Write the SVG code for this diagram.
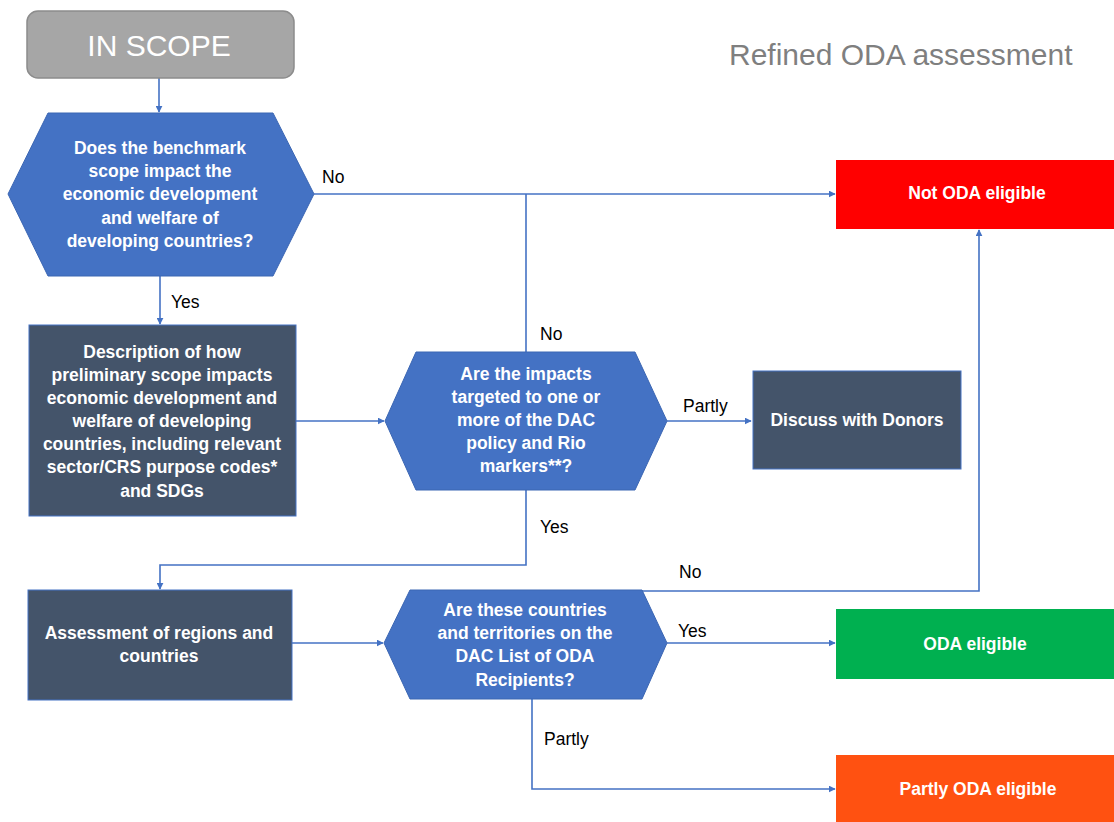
<svg xmlns="http://www.w3.org/2000/svg" width="1114" height="822" viewBox="0 0 1114 822">
<defs>
<style>
.bt{font-family:"Liberation Sans",Arial,sans-serif;font-weight:bold;font-size:17.5px;fill:#ffffff;text-anchor:middle}
.lb{font-family:"Liberation Sans",Arial,sans-serif;font-size:17.5px;fill:#000000}
.hex{fill:#4472c4;stroke:#3b66b3;stroke-width:1}
.dark{fill:#44546a;stroke:#4472c4;stroke-width:1}
.cn{fill:none;stroke:#4472c4;stroke-width:1.6}
</style>
<marker id="ah" viewBox="0 0 10 10" refX="9" refY="5" markerWidth="7" markerHeight="7" markerUnits="userSpaceOnUse" orient="auto">
<path d="M0,0 L10,5 L0,10 z" fill="#4472c4"/>
</marker>
</defs>
<rect width="1114" height="822" fill="#ffffff"/>
<text x="729" y="65" font-family="Liberation Sans,Arial,sans-serif" font-size="30" fill="#7f7f7f">Refined ODA assessment</text>

<g id="connectors">
<path class="cn" d="M159,78 V112" marker-end="url(#ah)"/>
<path class="cn" d="M314,194 H835" marker-end="url(#ah)"/>
<path class="cn" d="M526,352 V194"/>
<path class="cn" d="M160,276 V324" marker-end="url(#ah)"/>
<path class="cn" d="M296,421 H384" marker-end="url(#ah)"/>
<path class="cn" d="M667,421 H751" marker-end="url(#ah)"/>
<path class="cn" d="M526,490 V565 H160 V589" marker-end="url(#ah)"/>
<path class="cn" d="M292,643 H383" marker-end="url(#ah)"/>
<path class="cn" d="M642,591 H979 V230" marker-end="url(#ah)"/>
<path class="cn" d="M667,643 H835" marker-end="url(#ah)"/>
<path class="cn" d="M532,699 V789 H835" marker-end="url(#ah)"/>
<text class="lb" x="322" y="183">No</text>
<text class="lb" x="171" y="308">Yes</text>
<text class="lb" x="540" y="340">No</text>
<text class="lb" x="683" y="412">Partly</text>
<text class="lb" x="540" y="533">Yes</text>
<text class="lb" x="679" y="578">No</text>
<text class="lb" x="678" y="637">Yes</text>
<text class="lb" x="544" y="745">Partly</text>
</g>

<g id="in-scope">
<rect x="27" y="11" width="267" height="67" rx="11" fill="#a6a6a6" stroke="#8c8c8c" stroke-width="1.5"/>
<text x="159" y="56" font-family="Liberation Sans,Arial,sans-serif" font-size="30" fill="#ffffff" text-anchor="middle">IN SCOPE</text>
</g>

<g id="q-impact">
<polygon class="hex" points="8,194 48,113 273,113 314,194 273,276 48,276"/>
<text class="bt" x="160" y="154">Does the benchmark</text>
<text class="bt" x="160" y="177">scope impact the</text>
<text class="bt" x="160" y="200">economic development</text>
<text class="bt" x="160" y="224">and welfare of</text>
<text class="bt" x="160" y="247">developing countries?</text>
</g>

<g id="description">
<rect class="dark" x="29" y="325" width="267" height="191"/>
<text class="bt" x="162" y="358">Description of how</text>
<text class="bt" x="162" y="381">preliminary scope impacts</text>
<text class="bt" x="162" y="404">economic development and</text>
<text class="bt" x="162" y="427">welfare of developing</text>
<text class="bt" x="162" y="450">countries, including relevant</text>
<text class="bt" x="162" y="473">sector/CRS purpose codes*</text>
<text class="bt" x="162" y="497">and SDGs</text>
</g>

<g id="q-markers">
<polygon class="hex" points="385,421 416,352 635,352 667,421 635,490 416,490"/>
<text class="bt" x="526" y="380">Are the impacts</text>
<text class="bt" x="526" y="403">targeted to one or</text>
<text class="bt" x="526" y="426">more of the DAC</text>
<text class="bt" x="526" y="449">policy and Rio</text>
<text class="bt" x="526" y="472">markers**?</text>
</g>

<g id="discuss">
<rect class="dark" x="753" y="371" width="208" height="98"/>
<text class="bt" x="857" y="426">Discuss with Donors</text>
</g>

<g id="not-oda">
<rect x="836" y="160" width="278" height="69" fill="#ff0000"/>
<text class="bt" x="977" y="199">Not ODA eligible</text>
</g>

<g id="assessment">
<rect class="dark" x="28" y="590" width="264" height="110"/>
<text class="bt" x="159" y="639">Assessment of regions and</text>
<text class="bt" x="159" y="662">countries</text>
</g>

<g id="q-dac-list">
<polygon class="hex" points="384,643 410,590 642,590 667,643 642,699 410,699"/>
<text class="bt" x="525" y="616">Are these countries</text>
<text class="bt" x="525" y="639">and territories on the</text>
<text class="bt" x="525" y="662">DAC List of ODA</text>
<text class="bt" x="525" y="686">Recipients?</text>
</g>

<g id="oda">
<rect x="836" y="609" width="278" height="70" fill="#00b050"/>
<text class="bt" x="975" y="650">ODA eligible</text>
</g>

<g id="partly-oda">
<rect x="836" y="755" width="278" height="67" fill="#ff5111"/>
<text class="bt" x="978" y="795">Partly ODA eligible</text>
</g>
</svg>
